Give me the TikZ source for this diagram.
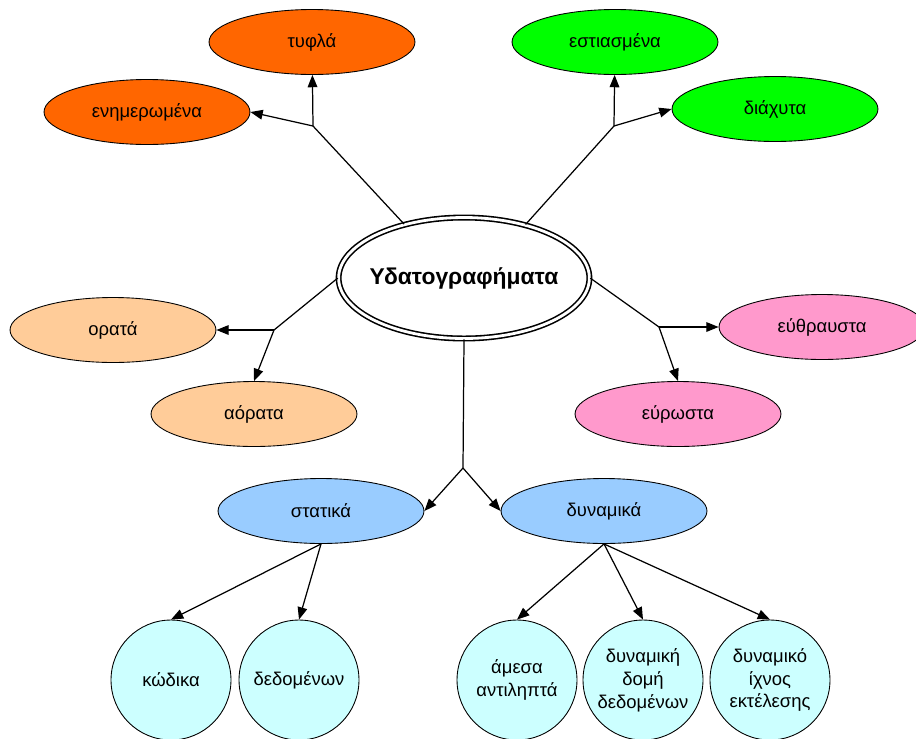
\documentclass[tikz,border=0pt]{standalone}
\usepackage{fontspec}
\setmainfont{Liberation Sans}
\usetikzlibrary{arrows.meta,shapes.geometric}
\definecolor{orng}{HTML}{FF6600}
\definecolor{grn}{HTML}{00FF00}
\definecolor{peach}{HTML}{FFCC99}
\definecolor{pnk}{HTML}{FF99CC}
\definecolor{blu}{HTML}{99CCFF}
\definecolor{cyanlt}{HTML}{CCFFFF}
\begin{document}
\begin{tikzpicture}[x=0.02cm, y=-0.02cm, >={Triangle[length=7pt,width=5.5pt]}, line width=0.7pt,
  leaf/.style={draw, ellipse, line width=0.5pt, minimum width=4.12cm, minimum height=1.3cm, inner sep=0pt, font=\fontsize{10.5}{13}\selectfont},
  ball/.style={draw, circle, line width=0.5pt, fill=cyanlt, minimum size=2.4cm, inner sep=0pt, align=center, font=\fontsize{10.5}{13}\selectfont}]
\useasboundingbox (0,0) rectangle (916,738);
\node[draw, ellipse, fill=white, double, double distance=1.6pt, line width=0.9pt, minimum width=5.0cm, minimum height=2.42cm, inner ysep=0pt, inner xsep=-3.2pt, font=\bfseries\fontsize{13}{15}\selectfont] (ydat) at (464,278) {Υδατογραφήματα};
\node[leaf, fill=orng] (tyfla) at (312,42) {τυφλά};
\node[leaf, fill=orng] (enim) at (147,112) {ενημερωμένα};
\node[leaf, fill=grn] (estias) at (615,42) {εστιασμένα};
\node[leaf, fill=grn] (diaxyta) at (775,109) {διάχυτα};
\node[leaf, fill=peach] (orata) at (113,330) {ορατά};
\node[leaf, fill=peach] (aorata) at (254,414) {αόρατα};
\node[leaf, fill=pnk] (euthr) at (822,327) {εύθραυστα};
\node[leaf, fill=pnk] (eurwst) at (678,414) {εύρωστα};
\node[leaf, fill=blu] (stat) at (321,511) {στατικά};
\node[leaf, fill=blu] (dyn) at (604,511) {δυναμικά};
\node[ball] (kod) at (171,680) {κώδικα};
\node[ball] (dedom) at (299,680) {δεδομένων};
\node[ball] (amesa) at (517,680) {άμεσα\\αντιληπτά};
\node[ball] (domi) at (643,680) {δυναμική\\δομή\\δεδομένων};
\node[ball] (ixnos) at (770,680) {δυναμικό\\ίχνος\\εκτέλεσης};
% branch points
\coordinate (jtl) at (313,126);
\coordinate (jtr) at (614,126);
\coordinate (jw) at (274,330);
\coordinate (je) at (659,327);
\coordinate (jd) at (463,468);
\draw (ydat.138) -- (jtl);
\draw[->] (jtl) -- (tyfla);
\draw[->] (jtl) -- (enim.east);
\draw (ydat.41) -- (jtr);
\draw[->] (jtr) -- (estias);
\draw[->] (jtr) -- (diaxyta.west);
\draw (ydat.west) -- (jw);
\draw[->] (jw) -- (orata.east);
\draw[->] (jw) -- (aorata.north);
\draw (ydat.east) -- (je);
\draw[->] (je) -- (euthr.west);
\draw[->] (je) -- (eurwst.north);
\draw (ydat.south) -- (jd);
\draw[->] (jd) -- (stat.east);
\draw[->] (jd) -- (dyn.west);
\draw[->] (stat.south) -- (kod.north);
\draw[->] (stat.south) -- (dedom.north);
\draw[->] (dyn.south) -- (amesa.north);
\draw[->] (dyn.south) -- (domi.north);
\draw[->] (dyn.south) -- (ixnos.north);
\end{tikzpicture}
\end{document}
